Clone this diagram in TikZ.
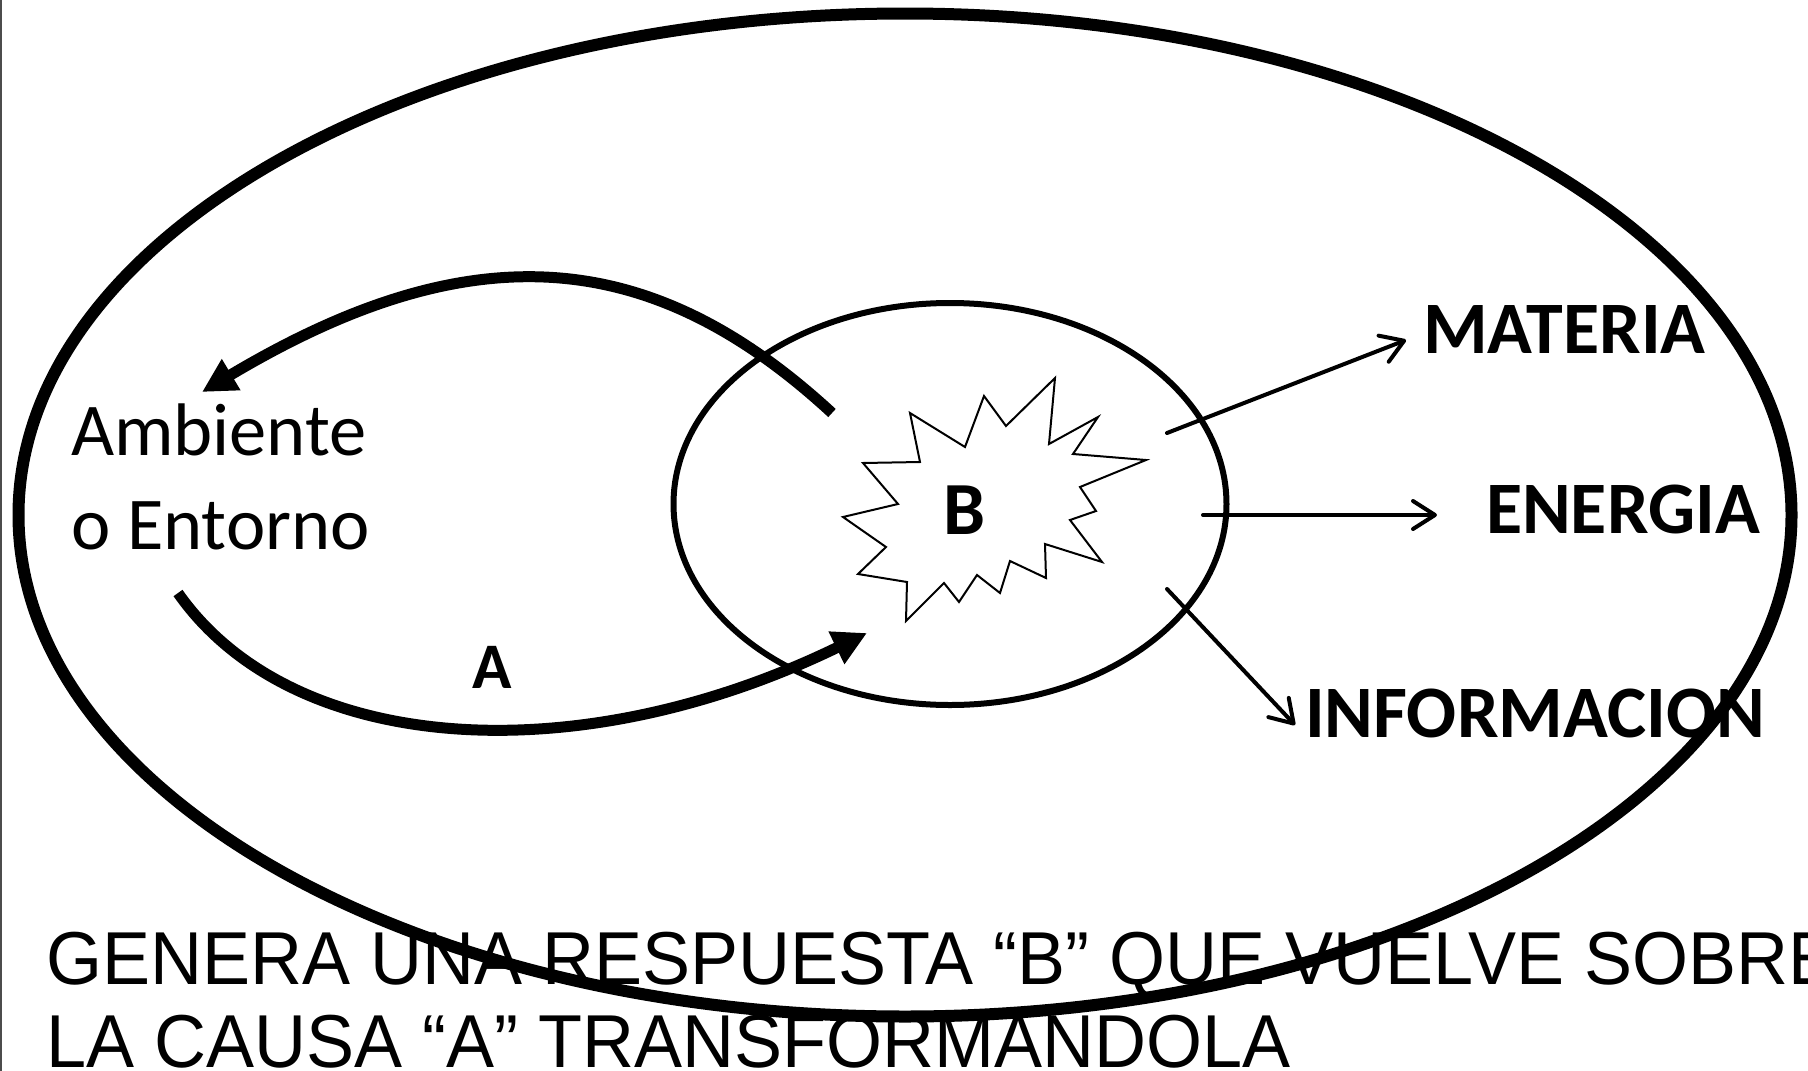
\documentclass[tikz,border=0pt]{standalone}
\usepackage{fontspec}
\setmainfont{Carlito}
\newfontfamily\pief[FakeStretch=0.96]{Liberation Sans}
\usepackage{tikz}
\usetikzlibrary{positioning}
\usetikzlibrary{shapes.geometric}
\usetikzlibrary{arrows.meta}

\begin{document}
\begin{tikzpicture}[x=1pt, y=-1pt,
    every node/.style={inner sep=0pt, outer sep=0pt},
    arco/.style={line width=11pt, -{Triangle[length=34pt, width=34pt]}},
    salida/.style={line width=4pt, line cap=round, -{Straight Barb[length=22pt, width=28pt, round]}},
    rotulo/.style={anchor=base west, font=\fontsize{74}{89}\selectfont\bfseries},
    texto/.style={font=\fontsize{74.5}{89}\selectfont},
    pie/.style={anchor=base west, font=\pief\fontsize{75}{90}\selectfont}]
  \useasboundingbox (0,0) rectangle (1808,1071);
  \draw[gray!60!black, line width=1.5pt] (1,0) -- (1,1071);

  % Nodos
  \node[draw, ellipse, line width=12pt, minimum width=1773pt, minimum height=1003pt] (entorno) at (905,515) {};
  \node[draw, ellipse, line width=6pt, minimum width=553pt, minimum height=402pt] (sistema) at (950,504) {};

  \draw[fill=white, line width=2pt] (1055,378) -- (1049,444) -- (1098,417) -- (1073,454)
    -- (1146,460) -- (1080,487) -- (1096,511) -- (1070,520) -- (1102,562) -- (1045,544)
    -- (1046,578) -- (1010,561) -- (1000,593) -- (977,575) -- (959,602) -- (944,583)
    -- (906,621) -- (907,582) -- (858,574) -- (886,547) -- (843,517) -- (898,504)
    -- (863,463) -- (920,462) -- (910,413) -- (965,447) -- (984,396) -- (1006,426) -- cycle;
  \node[font=\fontsize{75}{90}\selectfont\bfseries] (b) at (965,510) {B};

  \node[texto, anchor=base west] (ambiente) at (71,455) {Ambiente};
  \node[texto, below=46pt of ambiente.south west, anchor=north west] (oentorno) {o Entorno};
  \node[font=\fontsize{65}{78}\selectfont\bfseries] (a) at (492,667) {A};

  \node[rotulo] (materia) at (1423,353) {MATERIA};
  \node[rotulo] (energia) at (1486,533) {ENERGIA};
  \node[rotulo] (informacion) at (1305,737) {INFORMACION};

  \node[pie] (pie1) at (46.5,984) {GENERA UNA RESPUESTA “B” QUE VUELVE SOBRE};
  \node[pie] (pie2) at (46.5,1067) {LA CAUSA “A” TRANSFORMANDOLA};

  \coordinate (vueltaIni) at (832,413);
  \coordinate (vueltaFin) at (202,392);
  \coordinate (causaIni) at (178,593);
  \coordinate (causaFin) at (867,633);
  \coordinate (m0) at (1167,433);
  \coordinate (m1) at (1406,340);
  \coordinate (e0) at (1203,515);
  \coordinate (e1) at (1437,515);
  \coordinate (i0) at (1167,589);
  \coordinate (i1) at (1295,725);

  % Aristas
  \draw[arco] (vueltaIni) .. controls (650,245) and (470,232) .. (vueltaFin);
  \draw[arco] (causaIni) .. controls (293,757) and (579,773) .. (causaFin);
  \draw[salida] (m0) -- (m1);
  \draw[salida] (e0) -- (e1);
  \draw[salida] (i0) -- (i1);
\end{tikzpicture}
\end{document}
